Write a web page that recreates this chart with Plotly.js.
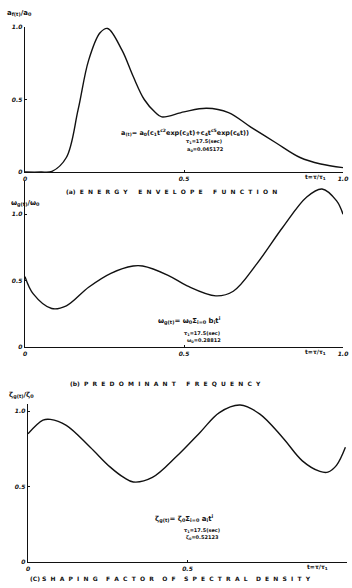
<!DOCTYPE html>
<html>
<head>
<meta charset="utf-8">
<script src="https://cdn.plot.ly/plotly-3.0.1.min.js"></script>
<style>html,body{margin:0;padding:0;background:#fff;}#chart{width:352px;height:588px;}</style>
</head>
<body>
<div id="chart"></div>
<script>
// ---- data ----
const tA = [0, 0.05, 0.085, 0.13, 0.167, 0.2, 0.236, 0.26, 0.305, 0.34, 0.375, 0.41, 0.43, 0.5, 0.571, 0.64, 0.71, 0.79, 0.865, 0.93, 1.0];
const vA = [0, 0, 0.005, 0.1, 0.43, 0.77, 0.96, 0.99, 0.84, 0.66, 0.50, 0.41, 0.38, 0.415, 0.44, 0.41, 0.31, 0.20, 0.10, 0.055, 0.03];

const tB = [0, 0.026, 0.084, 0.13, 0.20, 0.27, 0.34, 0.37, 0.45, 0.51, 0.60, 0.655, 0.73, 0.81, 0.886, 0.934, 0.98, 1.0];
const vB = [0.53, 0.40, 0.29, 0.31, 0.45, 0.555, 0.61, 0.61, 0.54, 0.46, 0.385, 0.42, 0.63, 0.90, 1.13, 1.19, 1.10, 1.0];

const tC = [0, 0.047, 0.07, 0.12, 0.195, 0.257, 0.30, 0.33, 0.39, 0.466, 0.54, 0.60, 0.665, 0.727, 0.80, 0.86, 0.915, 0.94, 0.967, 0.995];
const vC = [0.85, 0.94, 0.945, 0.905, 0.76, 0.63, 0.56, 0.53, 0.56, 0.70, 0.86, 0.99, 1.04, 0.98, 0.82, 0.67, 0.60, 0.595, 0.64, 0.76];

const yTickVals = [0, 0.5, 1.0];
const yTickText = ["0", "0.5", "1.0"];
const xTickVals = [0, 0.5, 1.0];
const xTickText = ["0", "0.5", "1.0"];

// ---- layout helpers ----
const W = 352, H = 588;
const px = x => x / W;
const py = y => 1 - y / H;
const FONT = "DejaVu Sans";
const ink = "#111";

function line(x, y, xa, ya) {
  return { x: x, y: y, xaxis: xa, yaxis: ya, type: "scatter", mode: "lines",
    line: { color: ink, width: 1.4, shape: "spline", smoothing: 1.0 },
    hoverinfo: "skip", showlegend: false, cliponaxis: false };
}

function xax(d0, d1, anchor) {
  return { domain: [px(d0), px(d1)], range: [0, 1.0], anchor: anchor,
    showline: true, linecolor: ink, linewidth: 1.3, showgrid: false, zeroline: false,
    tickvals: xTickVals, ticktext: xTickText, ticks: "inside", ticklen: 2, tickcolor: ink,
    tickfont: { family: FONT, size: 6, color: ink, style: "italic", weight: "bold" }, fixedrange: true };
}
function yax(y0, y1, rmax, anchor) {
  return { domain: [py(y0), py(y1)], range: [0, rmax], anchor: anchor,
    showline: true, linecolor: ink, linewidth: 1.3, showgrid: false, zeroline: false,
    tickvals: yTickVals, ticktext: yTickText, ticks: "inside", ticklen: 2, tickcolor: ink,
    tickfont: { family: FONT, size: 6, color: ink, style: "italic", weight: "bold" }, fixedrange: true };
}

function ann(text, x, y, size, xanchor, bold) {
  return { text: bold ? "<b>" + text + "</b>" : text, xref: "paper", yref: "paper",
    x: px(x), y: py(y), xanchor: xanchor || "center", yanchor: "middle",
    showarrow: false, font: { family: FONT, size: size, color: ink } };
}

const data = [
  line(tA, vA, "x", "y"),
  line(tB, vB, "x2", "y2"),
  line(tC, vC, "x3", "y3")
];

const layout = {
  width: W, height: H,
  margin: { l: 0, r: 0, t: 0, b: 0 },
  paper_bgcolor: "#fff", plot_bgcolor: "#fff",
  showlegend: false,
  xaxis: xax(25, 343, "y"),
  yaxis: yax(172, 27, 1.0, "x"),
  xaxis2: xax(25, 343, "y2"),
  yaxis2: yax(347, 181, 1.25, "x2"),
  xaxis3: xax(28, 347, "y3"),
  yaxis3: yax(562, 403.5, 1.05, "x3"),
  annotations: [
    // axis titles
    ann("a<sub>f(t)</sub>/a<sub>0</sub>", 5, 13, 7, "left", true),
    ann("ω<sub>g(t)</sub>/ω<sub>0</sub>", 9, 203, 7, "left", true),
    ann("ζ<sub>g(t)</sub>/ζ<sub>0</sub>", 7, 395, 7, "left", true),
    ann("t=τ/τ<sub>1</sub>", 328, 177, 6, "right", true),
    ann("t=τ/τ<sub>1</sub>", 328, 352, 6, "right", true),
    ann("t=τ/τ<sub>1</sub>", 330, 567, 6, "right", true),
    // captions
    ann("(a)  E  N  E  R  G  Y     E  N  V  E  L  O  P  E     F  U  N  C  T  I  O  N", 171, 192, 6, "center", true),
    ann("(b)  P  R  E  D  O  M  I  N  A  N  T     F  R  E  Q  U  E  N  C  Y", 165, 384, 6, "center", true),
    ann("(C) S  H  A  P  I  N  G    F  A  C  T  O  R    O  F    S  P  E  C  T  R  A  L    D  E  N  S  I  T  Y", 170, 578, 6, "center", true),
    // formulas (a)
    ann("a<sub>(t)</sub>= a<sub>0</sub>(c<sub>1</sub>t<sup>c2</sup>exp(c<sub>3</sub>t)+c<sub>4</sub>t<sup>c5</sup>exp(c<sub>6</sub>t))", 185, 132, 6.5, "center", true),
    ann("τ<sub>1</sub>=17.5(sec)", 204, 141, 5, "center", true),
    ann("a<sub>0</sub>=0.045172", 205, 149, 5, "center", true),
    // formulas (b)
    ann("ω<sub>g(t)</sub>= ω<sub>0</sub>Σ<sub>i=0</sub> b<sub>i</sub>t<sup>i</sup>", 189, 320, 7, "center", true),
    ann("τ<sub>1</sub>=17.5(sec)", 202, 333, 5, "center", true),
    ann("ω<sub>0</sub>=0.28812", 204, 340, 5, "center", true),
    // formulas (c)
    ann("ζ<sub>g(t)</sub>= ζ<sub>0</sub>Σ<sub>i=0</sub> a<sub>i</sub>t<sup>i</sup>", 184, 518, 7, "center", true),
    ann("τ<sub>1</sub>=17.5(sec)", 202, 530, 5, "center", true),
    ann("ζ<sub>0</sub>=0.52123", 202, 537, 5, "center", true)
  ]
};

Plotly.newPlot("chart", data, layout, { displayModeBar: false, staticPlot: true });
</script>
</body>
</html>
